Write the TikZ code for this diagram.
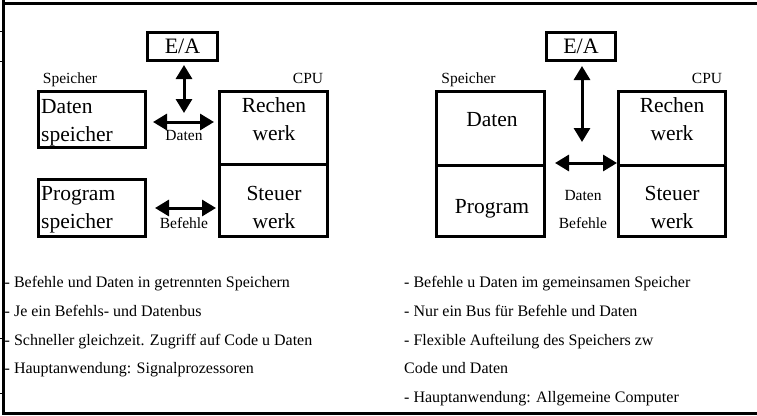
\documentclass[tikz,border=0pt]{standalone}
\usepackage{fontspec}
\setmainfont{Liberation Serif}
\usetikzlibrary{arrows.meta}
\begin{document}
\begin{tikzpicture}[x=1pt,y=-1pt,
  box/.style={draw,line width=3pt,inner sep=0pt},
  big/.style={font=\fontsize{21.5}{21.5}\selectfont,inner sep=0pt},
  small/.style={font=\fontsize{15.5}{15.5}\selectfont,inner sep=0pt,anchor=base},
  txt/.style={font=\fontsize{16}{16}\selectfont,anchor=base west,inner sep=0pt},
  bus/.style={line width=3pt,{Triangle[width=16pt,length=14pt]}-{Triangle[width=16pt,length=14pt]}},
  frame/.style={line width=3pt},
  tick/.style={line width=1pt}
]
\useasboundingbox (0,0) rectangle (757,415);
% frame
\draw[frame] (3,0) -- (3,415);
\draw[frame] (3,3) -- (757,3);
\draw[frame] (3,413) -- (757,413);
\draw[tick] (0,31) -- (3,31);
\draw[tick] (0,61) -- (3,61);
\draw[tick] (0,338) -- (3,338);
\draw[tick] (0,393) -- (3,393);

% ---------- left diagram ----------
\node[box,minimum width=70pt,minimum height=28pt] (ea1) at (182.5,46.5) {};
\node[big,font=\fontsize{22}{22}\selectfont,anchor=base] (ea1t) at (182.5,53.5) {E/A};
\node[box,minimum width=107pt,minimum height=56pt] (ds) at (92,119.5) {};
\node[box,minimum width=107pt,minimum height=57pt] (ps) at (92,208) {};
\node[box,minimum width=108pt,minimum height=145pt] (cpu1) at (273.5,164) {};
\draw[line width=3pt] (cpu1.west) -- (cpu1.east);

\node[small] (sp1) at (70,83) {Speicher};
\node[small] (cpul1) at (308,83) {CPU};

\node[big,anchor=base west] (t1) at (41,113) {Daten};
\node[big,anchor=base west] (t2) at (41,141) {speicher};
\node[big,anchor=base west] (t3) at (41,200) {Program};
\node[big,anchor=base west] (t4) at (41,228) {speicher};
\node[big,anchor=base] (t5) at (274,112) {Rechen};
\node[big,anchor=base] (t6) at (274,140) {werk};
\node[big,anchor=base] (t7) at (274,200) {Steuer};
\node[big,anchor=base] (t8) at (274,228) {werk};

\coordinate (v1) at (184,113);
\draw[bus] ([yshift=-3pt]ea1.south -| v1) -- (v1);
\coordinate (d1a) at (153,122);
\coordinate (d1b) at (214,122);
\draw[bus] (d1a) -- (d1b);
\coordinate (b1a) at (155,208);
\coordinate (b1b) at (216,208);
\draw[bus] (b1a) -- (b1b);
\node[small] (l1) at (184,140) {Daten};
\node[small] (l2) at (184,228) {Befehle};

% ---------- right diagram ----------
\node[box,minimum width=69pt,minimum height=28pt] (ea2) at (581,46.5) {};
\node[big,font=\fontsize{22}{22}\selectfont,anchor=base] (ea2t) at (581,53.5) {E/A};
\node[box,minimum width=108pt,minimum height=145pt] (mem) at (490.5,164) {};
\draw[line width=3pt] ([yshift=-1pt]mem.west) -- ([yshift=-1pt]mem.east);
\node[box,minimum width=107pt,minimum height=145pt] (cpu2) at (672,164) {};
\draw[line width=3pt] ([yshift=-1pt]cpu2.west) -- ([yshift=-1pt]cpu2.east);

\node[small] (sp2) at (468.5,83) {Speicher};
\node[small] (cpul2) at (707,83) {CPU};

\node[big,anchor=base] (r1) at (492,126) {Daten};
\node[big,anchor=base] (r2) at (492,213) {Program};
\node[big,anchor=base] (r3) at (672,112) {Rechen};
\node[big,anchor=base] (r4) at (672,140) {werk};
\node[big,anchor=base] (r5) at (672,200) {Steuer};
\node[big,anchor=base] (r6) at (672,228) {werk};

\coordinate (v2) at (582,142);
\draw[bus] ([yshift=-4pt]ea2.south -| v2) -- (v2);
\coordinate (h2) at (555,163);
\draw[bus] (h2) -- (h2 -| cpu2.west);
\node[small] (l3) at (583,200) {Daten};
\node[small] (l4) at (583,228) {Befehle};

% ---------- texts ----------
\node[txt] (a1) at (4.5,287) {- Befehle und Daten in getrennten Speichern};
\node[txt] (a2) at (4.5,316) {- Je ein Befehls- und Datenbus};
\node[txt] (a3) at (4.5,345) {- Schneller gleichzeit. Zugriff auf Code u Daten};
\node[txt] (a4) at (4.5,373) {- Hauptanwendung: Signalprozessoren};

\node[txt] (b1) at (404,287) {- Befehle u Daten im gemeinsamen Speicher};
\node[txt] (b2) at (404,316) {- Nur ein Bus für Befehle und Daten};
\node[txt] (b3) at (404,345) {- Flexible Aufteilung des Speichers zw};
\node[txt] (b4) at (404,373) {Code und Daten};
\node[txt] (b5) at (404,402) {- Hauptanwendung: Allgemeine Computer};
\end{tikzpicture}
\end{document}
